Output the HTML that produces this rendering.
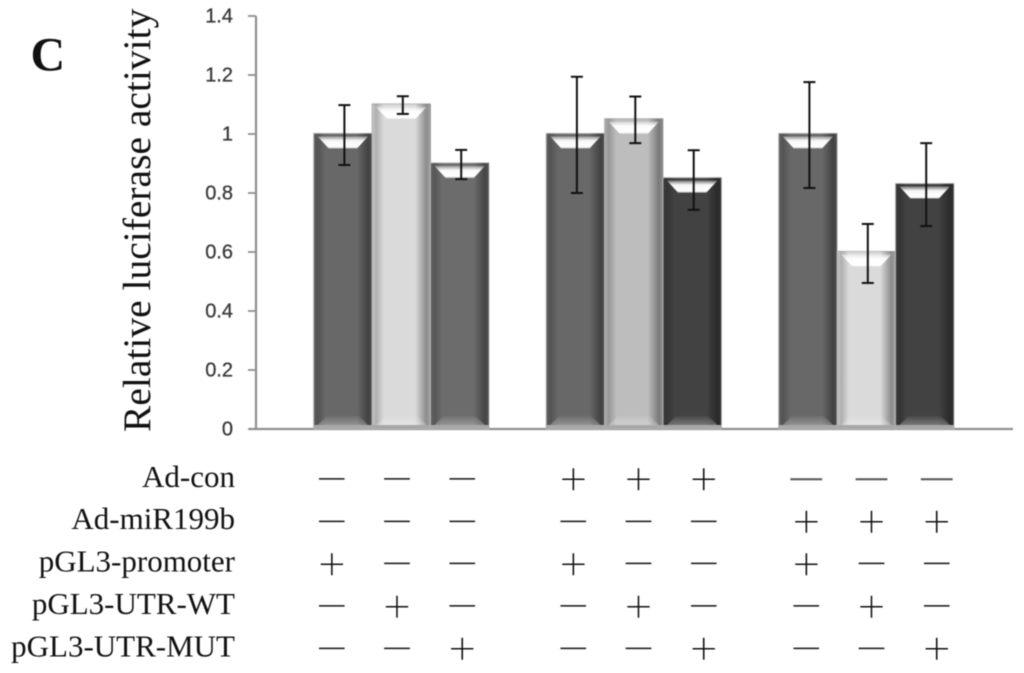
<!DOCTYPE html>
<html lang="en">
<head>
<meta charset="utf-8">
<title>Relative luciferase activity</title>
<style>
html,body{margin:0;padding:0;background:#fff;width:1024px;height:673px;overflow:hidden}
svg{display:block;filter:blur(0.5px)}
.serif{font-family:"Liberation Serif",serif;fill:#111}
.tick{font-family:"Liberation Sans",sans-serif;font-size:20px;fill:#3a3a3a;stroke:#3a3a3a;stroke-width:.3px}
</style>
</head>
<body>
<svg id="chart" xmlns="http://www.w3.org/2000/svg" width="1024" height="673" viewBox="0 0 1024 673">
<defs>
<linearGradient id="side" x1="0" x2="1" y1="0" y2="0">
<stop offset="0" stop-color="#000" stop-opacity=".08"/>
<stop offset=".07" stop-color="#000" stop-opacity=".2"/>
<stop offset=".2" stop-color="#000" stop-opacity="0"/>
<stop offset=".74" stop-color="#000" stop-opacity="0"/>
<stop offset=".93" stop-color="#000" stop-opacity=".36"/>
<stop offset="1" stop-color="#000" stop-opacity=".25"/>
</linearGradient>
<linearGradient id="shine" x1="0" x2="0" y1="0" y2="1">
<stop offset="0" stop-color="#fff" stop-opacity=".3"/>
<stop offset=".35" stop-color="#fff" stop-opacity=".95"/>
<stop offset=".85" stop-color="#fff" stop-opacity="1"/>
<stop offset="1" stop-color="#fff" stop-opacity=".65"/>
</linearGradient>
<linearGradient id="base" x1="0" x2="0" y1="0" y2="1">
<stop offset="0" stop-color="#fff" stop-opacity=".04"/>
<stop offset="1" stop-color="#fff" stop-opacity=".28"/>
</linearGradient>
</defs>
<text class="serif" x="30.5" y="70.5" font-size="48" font-weight="bold">C</text>
<text class="serif" transform="translate(150,432) rotate(-90)" font-size="39.5">Relative luciferase activity</text>
<g id="plot"></g>
<g id="table"></g>
</svg>
<script>
const yTicks = ['0', '0.2', '0.4', '0.6', '0.8', '1', '1.2', '1.4'];
const groups = ['group-1', 'group-2', 'group-3'];
const barValues = [1.0, 1.1, 0.9, 1.0, 1.05, 0.85, 1.0, 0.6, 0.83];
const errorHigh = [1.098, 1.128, 0.946, 1.194, 1.127, 0.945, 1.176, 0.695, 0.969];
const errorLow = [0.895, 1.068, 0.847, 0.80, 0.969, 0.743, 0.817, 0.495, 0.688];
const rowLabels = ['Ad-con', 'Ad-miR199b', 'pGL3-promoter', 'pGL3-UTR-WT', 'pGL3-UTR-MUT'];
const rowSigns = [
  ['-', '-', '-', '+', '+', '+', '-', '-', '-'],
  ['-', '-', '-', '-', '-', '-', '+', '+', '+'],
  ['+', '-', '-', '+', '-', '-', '+', '-', '-'],
  ['-', '+', '-', '-', '+', '-', '-', '+', '-'],
  ['-', '-', '+', '-', '-', '+', '-', '-', '+']
];

const NS = 'http://www.w3.org/2000/svg';
const fills = ['#686868', '#dadada', '#6c6c6c', '#686868', '#bdbdbd', '#424242', '#686868', '#dadada', '#424242'];
const plot = document.getElementById('plot');
const table = document.getElementById('table');
const axisX0 = 256, axisX1 = 1013, axisY0 = 429, axisYTop = 16, yMax = 1.4;
const barW = 58.4, groupStep = 232.5, firstGroupCenter = 401.3;

function yScale(v) { return axisY0 - (axisY0 - axisYTop) * v / yMax; }
function xScale(i) {
  const g = Math.floor(i / 3), b = i % 3;
  return firstGroupCenter + g * groupStep + (b - 1) * barW;
}
function make(tag, attrs, parent) {
  const el = document.createElementNS(NS, tag);
  for (const k in attrs) el.setAttribute(k, attrs[k]);
  parent.appendChild(el);
  return el;
}

/* axes */
const yAxis = make('line', {x1: axisX0, x2: axisX0, y1: axisYTop, y2: axisY0, stroke: '#8f8f8f', 'stroke-width': 2.2}, plot);


const xAxis = make('line', {x1: 249, x2: axisX1, y1: axisY0, y2: axisY0, stroke: '#8f8f8f', 'stroke-width': 2.2}, plot);



yTicks.forEach(function (t) {
  const y = yScale(parseFloat(t));
  const mark = make('line', {x1: 248, x2: axisX0, y1: y, y2: y, stroke: '#8f8f8f', 'stroke-width': 1.8}, plot);
  
  
  const label = make('text', {x: 233, y: y + 6.5, 'text-anchor': 'end', class: 'tick'}, plot);
  
  
  label.textContent = t;
});

/* bars */
barValues.forEach(function (v, i) {
  const cx = xScale(i), x = cx - barW / 2, top = yScale(v) - 0.6, h = axisY0 - top, w = barW;
  const bar = make('g', {}, plot);
  
  
  make('rect', {x: x, y: top, width: w, height: h, fill: fills[i], stroke: '#b8b8b8', 'stroke-width': 1}, bar);
  make('rect', {x: x, y: top, width: w, height: h, fill: 'url(#side)'}, bar);
  make('polygon', {points: [x + 4, top + 3, x + w - 4, top + 3, x + w - 15, top + 15, x + 15, top + 15].join(' '), fill: 'url(#shine)'}, bar);
  make('polygon', {points: [x + 4, axisY0 - 4, x + w - 4, axisY0 - 4, x + w - 13, axisY0 - 13, x + 13, axisY0 - 13].join(' '), fill: 'url(#base)'}, bar);
  make('rect', {x: x, y: axisY0 - 4, width: w, height: 4, fill: '#a8a8a8'}, bar);
});

/* error bars */
barValues.forEach(function (v, i) {
  const cx = xScale(i) + 1.5, hi = yScale(errorHigh[i]), lo = yScale(errorLow[i]);
  const err = make('g', {stroke: '#111', 'stroke-width': 2}, plot);
  
  
  make('line', {x1: cx, x2: cx, y1: hi, y2: lo}, err);
  make('line', {x1: cx - 6, x2: cx + 6, y1: hi, y2: hi}, err);
  make('line', {x1: cx - 6, x2: cx + 6, y1: lo, y2: lo}, err);
});

/* treatment table */
function colX(c) { return 331.8 + Math.floor(c / 3) * 241.5 - (c >= 6 ? 8.5 : 0) + (c % 3) * 65.2; }
function rowY(r) { return 479.3 + r * 42.4; }
rowLabels.forEach(function (name, r) {
  const label = make('text', {x: 235, y: rowY(r) + 7.5, 'text-anchor': 'end', class: 'serif', 'font-size': 31}, table);
  
  
  label.textContent = name;
  rowSigns[r].forEach(function (s, c) {
    const plus = s === '+';
    const wide = !plus && r === 0 && c >= 6;
    const size = plus ? 50 : (wide ? 31 : 25);
    const sign = make('text', {
      x: colX(c),
      y: rowY(r) + (plus ? 16.8 : size * 0.225),
      'text-anchor': 'middle',
      class: 'serif',
      'font-size': size
    }, table);
    if (plus) {
      sign.setAttribute('stroke', '#fff');
      sign.setAttribute('stroke-width', '0.9');
    } else if (wide) {
      sign.setAttribute('style', 'fill:#555');
      sign.setAttribute('stroke', '#555');
      sign.setAttribute('stroke-width', '0.4');
    } else {
      sign.setAttribute('stroke', '#111');
      sign.setAttribute('stroke-width', '0.3');
    }
    
    
    sign.textContent = plus ? '+' : '\u2014';
  });
});
</script>
</body>
</html>
